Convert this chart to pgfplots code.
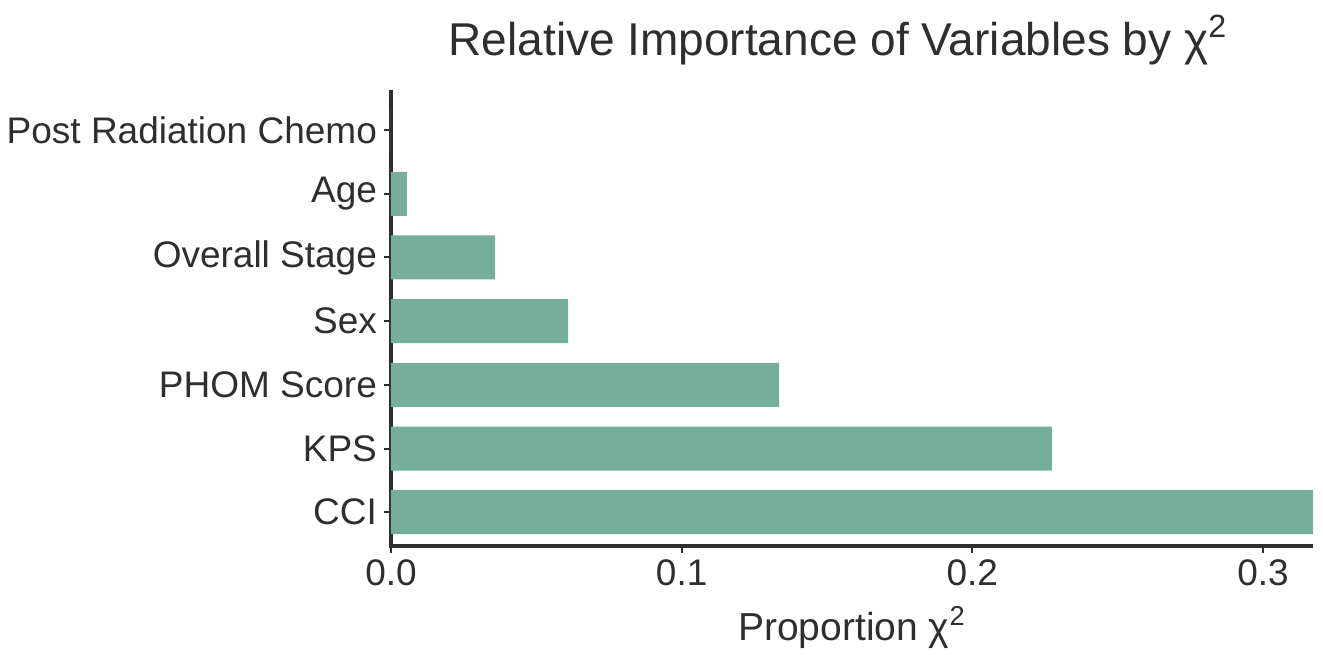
\documentclass[border=0pt]{standalone}
\usepackage{pgfplots}
\pgfplotsset{compat=1.18}
\usepackage{fontspec}
\setmainfont{Liberation Sans}
\definecolor{barfill}{HTML}{75AF9B}
\definecolor{ink}{HTML}{2E2E2E}
\begin{document}
\begin{tikzpicture}[font=\fontsize{18.5}{22}\selectfont]
\begin{axis}[
  at={(0,0)}, anchor=south west,
  scale only axis,
  width=461pt, height=228pt,
  xbar, bar width=22pt,
  xmin=0, xmax=0.3172,
  ymin=-0.53, ymax=6.63,
  axis lines*=left,
  axis line style={ink, line width=2pt, shorten <=-1pt},
  ytick={0,...,6},
  yticklabels={CCI, KPS, PHOM Score, Sex, Overall Stage, Age, Post Radiation Chemo},
  xtick={0,0.1,0.2,0.3},
  xticklabel style={/pgf/number format/.cd, fixed, fixed zerofill, precision=1, assume math mode=true},
  tick align=outside,
  major tick length=3.5pt,
  tick style={ink, line width=1pt},
  ticklabel style={text=ink, font=\fontsize{18.5}{22}\selectfont},
  xlabel={Proportion χ\textsuperscript{2}},
  xlabel style={text=ink, font=\fontsize{19.5}{23}\selectfont, yshift=-3pt},
  title={Relative Importance of Variables by χ\textsuperscript{2}},
  title style={text=ink, font=\fontsize{23}{27}\selectfont, yshift=3pt, xshift=-7pt},
  clip=false,
]
\addplot[draw=none, fill=barfill] coordinates {
  (0.3172,0) (0.2274,1) (0.1335,2) (0.0609,3) (0.0358,4) (0.0055,5) (0.0,6)
};
\end{axis}
\useasboundingbox (-195.5pt,-52pt) rectangle (466pt,273pt);
\end{tikzpicture}
\end{document}
